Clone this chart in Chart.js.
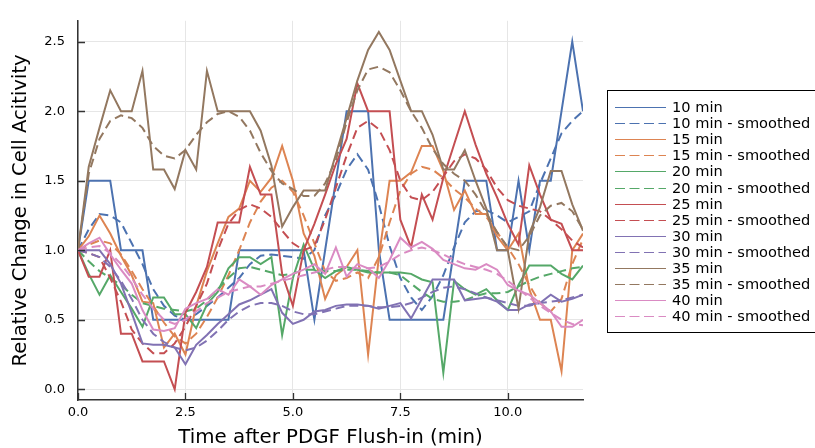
<!DOCTYPE html>
<html>
<head>
<meta charset="utf-8">
<script src="https://cdn.jsdelivr.net/npm/chart.js@4"></script>
<style>
  html, body { margin: 0; padding: 0; background: #fff; }
  #wrap { width: 815px; height: 448px; }
</style>
</head>
<body>
<div id="wrap"><canvas id="chart" width="815" height="448"></canvas></div>
<script>
// time points (min)
const times = [0,0.25,0.5,0.75,1,1.25,1.5,1.75,2,2.25,2.5,2.75,3,3.25,3.5,3.75,4,4.25,4.5,4.75,5,5.25,5.5,5.75,6,6.25,6.5,6.75,7,7.25,7.5,7.75,8,8.25,8.5,8.75,9,9.25,9.5,9.75,10,10.25,10.5,10.75,11,11.25,11.5,11.75];

const min10  = [1,1.5,1.5,1.5,1,1,1,0.5,0.5,0.5, 0.5,0.5,0.5,0.5,0.5,1,1,1,1,1, 1,1,0.5,1,1.5,2,2,2,1,0.5, 0.5,0.5,0.5,0.5,0.5,1,1.5,1.5,1.5,1, 1,1.5,1,1.5,1.5,2,2.5,2];
const min10s = [1.0,1.15,1.26,1.25,1.2,1.05,0.9,0.72,0.6,0.53, 0.5,0.54,0.6,0.66,0.73,0.8,0.9,0.96,0.97,0.96, 0.95,0.94,1.0,1.25,1.4,1.58,1.69,1.58,1.33,1.03, 0.8,0.66,0.57,0.67,0.82,1.02,1.2,1.28,1.29,1.25, 1.2,1.24,1.28,1.48,1.66,1.84,1.93,2.0];
const min15  = [1.0,1.1,1.25,1.12,0.96,0.82,0.63,0.62,0.3,0.4, 0.25,0.6,0.85,1.05,1.24,1.3,1.5,1.42,1.52,1.75, 1.5,1.12,0.96,0.65,0.82,0.88,1.0,0.25,0.95,1.5, 1.5,1.56,1.75,1.75,1.57,1.29,1.43,1.26,1.26,1.1, 1.0,1.12,0.72,0.5,0.5,0.13,1.0,1.12];
const min15s = [1.0,1.04,1.07,1.05,0.97,0.85,0.72,0.6,0.48,0.38, 0.33,0.4,0.52,0.66,0.82,1.0,1.2,1.35,1.45,1.5, 1.42,1.25,1.05,0.85,0.78,0.8,0.84,0.8,0.95,1.2, 1.43,1.55,1.6,1.58,1.52,1.44,1.38,1.3,1.24,1.13, 1.02,0.9,0.75,0.62,0.56,0.65,0.9,1.08];
const min20  = [1.0,0.83,0.68,0.82,0.7,0.58,0.45,0.66,0.66,0.54, 0.54,0.44,0.61,0.7,0.87,0.95,0.95,0.9,0.95,0.39, 0.8,1.04,0.86,0.8,0.85,0.88,0.86,0.84,0.84,0.84, 0.84,0.83,0.79,0.77,0.12,0.78,0.72,0.68,0.72,0.64, 0.57,0.75,0.89,0.89,0.89,0.83,0.79,0.89];
const min20s = [1.0,0.92,0.85,0.8,0.75,0.68,0.62,0.6,0.58,0.57, 0.56,0.58,0.64,0.72,0.8,0.87,0.88,0.86,0.84,0.82, 0.83,0.86,0.86,0.85,0.85,0.86,0.86,0.85,0.84,0.84, 0.82,0.76,0.7,0.65,0.63,0.63,0.64,0.67,0.69,0.69, 0.7,0.74,0.78,0.81,0.83,0.85,0.87,0.88];
const min25  = [1.0,0.81,0.81,1.0,0.4,0.4,0.2,0.2,0.2,0.0, 0.55,0.7,0.88,1.2,1.2,1.2,1.6,1.4,1.4,0.83, 0.6,1.0,1.19,1.4,1.62,1.8,2.2,2.0,2.0,2.0, 1.22,1.02,1.4,1.22,1.52,1.76,2.0,1.76,1.55,1.38, 1.19,1.04,1.61,1.4,1.22,1.19,1.0,1.0];
const min25s = [1.0,0.98,0.95,0.8,0.63,0.43,0.33,0.26,0.26,0.33, 0.45,0.6,0.76,1.0,1.19,1.29,1.33,1.3,1.24,1.14, 1.05,1.0,1.03,1.22,1.45,1.68,1.88,1.93,1.87,1.72, 1.5,1.38,1.36,1.42,1.53,1.64,1.69,1.66,1.58,1.45, 1.36,1.32,1.3,1.28,1.22,1.15,1.07,1.02];
const min30  = [1.0,1.0,1.0,0.9,0.76,0.55,0.33,0.32,0.32,0.3, 0.18,0.32,0.39,0.47,0.54,0.61,0.64,0.68,0.72,0.55, 0.47,0.5,0.56,0.57,0.6,0.61,0.61,0.6,0.58,0.6, 0.62,0.51,0.65,0.79,0.79,0.79,0.64,0.65,0.66,0.63, 0.57,0.57,0.61,0.62,0.68,0.63,0.65,0.68];
const min30s = [1.0,0.98,0.95,0.88,0.78,0.65,0.5,0.4,0.34,0.3, 0.28,0.3,0.35,0.42,0.5,0.56,0.6,0.62,0.62,0.6, 0.56,0.54,0.54,0.56,0.58,0.6,0.6,0.6,0.59,0.59, 0.6,0.62,0.66,0.7,0.73,0.74,0.72,0.69,0.66,0.64, 0.62,0.6,0.6,0.62,0.63,0.64,0.66,0.68];
const min35  = [1.0,1.6,1.88,2.15,2.0,2.0,2.29,1.58,1.58,1.44, 1.72,1.58,2.29,2.0,2.0,2.0,2.0,1.86,1.61,1.17, 1.31,1.43,1.43,1.43,1.69,1.95,2.22,2.44,2.57,2.44, 2.22,2.0,2.0,1.83,1.58,1.58,1.72,1.5,1.3,1.0, 1.0,0.58,1.12,1.31,1.57,1.57,1.33,1.14];
const min35s = [1.0,1.55,1.8,1.93,1.97,1.95,1.88,1.75,1.68,1.66, 1.72,1.83,1.92,1.98,2.0,1.96,1.86,1.7,1.57,1.48, 1.44,1.39,1.39,1.48,1.65,1.92,2.15,2.3,2.32,2.28, 2.15,2.0,1.88,1.73,1.62,1.55,1.5,1.4,1.27,1.13, 1.02,1.0,1.1,1.25,1.32,1.34,1.28,1.15];
const min40  = [1.0,1.05,1.09,0.97,0.86,0.76,0.57,0.43,0.42,0.44, 0.58,0.62,0.65,0.72,0.68,0.79,0.74,0.68,0.75,0.79, 0.83,0.86,0.9,0.83,1.02,0.81,0.9,0.87,0.8,0.93, 1.09,1.02,1.06,1.01,0.93,0.9,0.87,0.86,0.9,0.86, 0.75,0.71,0.68,0.62,0.56,0.45,0.45,0.5];
const min40s = [1.0,1.02,1.03,0.98,0.9,0.8,0.68,0.58,0.5,0.47, 0.5,0.56,0.62,0.66,0.7,0.72,0.74,0.74,0.76,0.78, 0.8,0.82,0.84,0.86,0.88,0.88,0.87,0.87,0.88,0.92, 0.97,1.0,1.02,1.0,0.97,0.93,0.9,0.88,0.86,0.83, 0.78,0.72,0.66,0.6,0.55,0.5,0.47,0.46];

const seriesNames = ["10 min", "15 min", "20 min", "25 min", "30 min", "35 min", "40 min"];
const rawSeries = [min10, min15, min20, min25, min30, min35, min40];
const smoothSeries = [min10s, min15s, min20s, min25s, min30s, min35s, min40s];
const colors = ["#4C72B0", "#DD8452", "#55A868", "#C44E52", "#8172B3", "#937860", "#DA8BC3"];

const xTickVals = [0, 2.5, 5, 7.5, 10];
const xTickLabels = ["0.0", "2.5", "5.0", "7.5", "10.0"];
const yTickVals = [0, 0.5, 1, 1.5, 2, 2.5];
const yTickLabels = ["0.0", "0.5", "1.0", "1.5", "2.0", "2.5"];

const FONT = '"DejaVu Sans", sans-serif';
const DASH = [9, 5];

const datasets = [];
seriesNames.forEach((name, i) => {
  datasets.push({ label: name, data: times.map((t, k) => ({ x: t, y: rawSeries[i][k] })),
    borderColor: colors[i], borderWidth: 2, borderDash: [] });
  datasets.push({ label: name + " - smoothed", data: times.map((t, k) => ({ x: t, y: smoothSeries[i][k] })),
    borderColor: colors[i], borderWidth: 2, borderDash: DASH });
});
// later series painted on top, like the original
datasets.forEach((d, i) => {
  d.order = datasets.length - i;
  d.pointRadius = 0;
  d.tension = 0;
  d.fill = false;
});

// inward tick marks
const tickMarks = {
  id: 'tickMarks',
  afterDatasetsDraw(chart) {
    const { ctx, chartArea, scales: { x, y } } = chart;
    ctx.save();
    ctx.strokeStyle = '#333';
    ctx.lineWidth = 1.3;
    ctx.beginPath();
    x.ticks.forEach(t => {
      const px = Math.round(x.getPixelForValue(t.value)) + 0.5;
      ctx.moveTo(px, chartArea.bottom);
      ctx.lineTo(px, chartArea.bottom - 7);
    });
    y.ticks.forEach(t => {
      const py = Math.round(y.getPixelForValue(t.value)) + 0.5;
      ctx.moveTo(chartArea.left, py);
      ctx.lineTo(chartArea.left + 7, py);
    });
    ctx.stroke();
    ctx.restore();
  }
};

// boxed legend at the right, as in the plot
const legendBox = {
  id: 'legendBox',
  afterDraw(chart) {
    const ctx = chart.ctx;
    ctx.save();
    ctx.fillStyle = '#fff';
    ctx.fillRect(607, 90, 220, 243);
    ctx.strokeStyle = '#000';
    ctx.lineWidth = 1;
    ctx.strokeRect(607.5, 90.5, 220, 242);
    ctx.font = '14.6px ' + FONT;
    ctx.textBaseline = 'middle';
    chart.data.datasets.forEach((ds, i) => {
      const yy = Math.round(107 + i * 16.1) + 0.5;
      ctx.strokeStyle = ds.borderColor;
      ctx.lineWidth = 1;
      ctx.setLineDash(ds.borderDash.length ? [10, 4.5] : []);
      ctx.beginPath();
      ctx.moveTo(615, yy);
      ctx.lineTo(666, yy);
      ctx.stroke();
      ctx.setLineDash([]);
      ctx.fillStyle = '#000';
      ctx.fillText(ds.label, 672, yy + 1);
    });
    ctx.restore();
  }
};

new Chart(document.getElementById('chart'), {
  type: 'line',
  data: { datasets },
  options: {
    responsive: false,
    animation: false,
    devicePixelRatio: 1,
    layout: { padding: { left: 0, top: 17, right: 232, bottom: 0 } },
    plugins: { legend: { display: false }, tooltip: { enabled: false } },
    scales: {
      x: {
        type: 'linear',
        min: 0, max: 11.75,
        afterFit(scale) { scale.height = 48; },
        afterBuildTicks(scale) { scale.ticks = xTickVals.map(v => ({ value: v })); },
        ticks: {
          color: '#000', padding: 5,
          font: { family: FONT, size: 13 },
          maxRotation: 0,
          callback: (v, i) => xTickLabels[i]
        },
        grid: { color: '#e6e6e6', lineWidth: 1, drawTicks: false },
        border: { color: '#333', width: 1.5 },
        title: { display: true, text: 'Time after PDGF Flush-in (min)', color: '#000',
          font: { family: FONT, size: 19.8, lineHeight: 1.0 }, padding: { top: 0, bottom: 0 } }
      },
      y: {
        type: 'linear',
        min: -0.077, max: 2.65,
        afterFit(scale) { scale.width = 78; },
        afterBuildTicks(scale) { scale.ticks = yTickVals.map(v => ({ value: v })); },
        ticks: {
          color: '#000', padding: 13,
          font: { family: FONT, size: 13 },
          callback: (v, i) => yTickLabels[i]
        },
        grid: { color: '#e6e6e6', lineWidth: 1, drawTicks: false },
        border: { color: '#333', width: 1.5 },
        title: { display: true, text: 'Relative Change in Cell Acitivity', color: '#000',
          font: { family: FONT, size: 19.6 }, padding: { top: 9, bottom: 0 } }
      }
    }
  },
  plugins: [tickMarks, legendBox]
});
</script>
</body>
</html>
